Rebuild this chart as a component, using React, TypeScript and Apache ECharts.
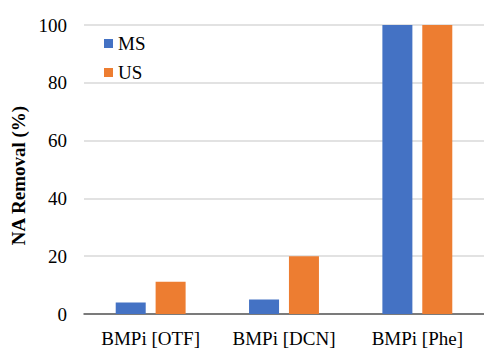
import React, { useEffect, useRef } from "react";
import * as echarts from "echarts";

const categories = ["BMPi [OTF]", "BMPi [DCN]", "BMPi [Phe]"];
const msValues = [4, 5, 100];
const usValues = [11.2, 20, 100];
const yTicks = { min: 0, max: 100, interval: 20 };

const FONT = "'Times New Roman', 'Liberation Serif', serif";

export default function App() {
  const ref = useRef<HTMLDivElement>(null);

  useEffect(() => {
    if (!ref.current) return;
    const chart = echarts.init(ref.current, undefined, { renderer: "svg" });
    chart.setOption({
      animation: false,
      backgroundColor: "#ffffff",
      textStyle: { fontFamily: FONT },
      grid: { left: 84, right: -12, top: 25, bottom: 31, containLabel: false },
      legend: {
        orient: "vertical",
        left: 99,
        top: 29,
        itemWidth: 9,
        itemHeight: 9,
        itemGap: 10,
        icon: "rect",
        textStyle: { fontFamily: FONT, fontSize: 19, color: "#000" },
        data: ["MS", "US"],
      },
      xAxis: {
        type: "category",
        data: categories,
        axisLine: { lineStyle: { color: "#595959", width: 1.5 } },
        axisTick: { show: false },
        axisLabel: { fontFamily: FONT, fontSize: 19, color: "#000", margin: 15, interval: 0 },
      },
      yAxis: {
        type: "value",
        min: yTicks.min,
        max: yTicks.max,
        interval: yTicks.interval,
        name: "NA Removal (%)",
        nameLocation: "middle",
        nameGap: 50,
        nameTextStyle: {
          fontFamily: FONT,
          fontSize: 19,
          fontWeight: "bold",
          color: "#000",
          padding: [0, 12, 0, 0],
        },
        axisLine: { show: false },
        axisTick: { show: false },
        axisLabel: { fontFamily: FONT, fontSize: 19, color: "#000", margin: 17 },
        splitLine: { lineStyle: { color: "#d9d9d9", width: 1.5 } },
      },
      series: [
        {
          name: "MS",
          type: "bar",
          data: msValues,
          barWidth: 30,
          barGap: "33%",
          itemStyle: { color: "#4472C4" },
        },
        {
          name: "US",
          type: "bar",
          data: usValues,
          barWidth: 30,
          itemStyle: { color: "#ED7D31" },
        },
      ],
    });
    return () => chart.dispose();
  }, []);

  return (
    <div
      ref={ref}
      style={{ position: "fixed", left: 0, top: 0, width: 484, height: 348 }}
    />
  );
}
